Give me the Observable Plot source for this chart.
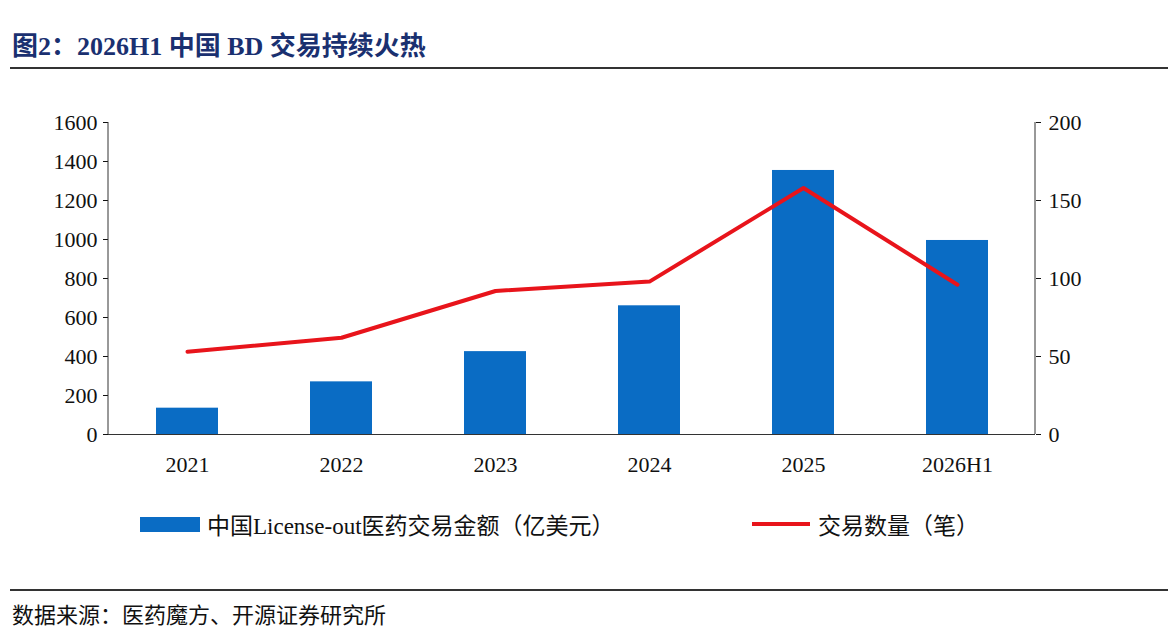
<!DOCTYPE html>
<html><head><meta charset="utf-8">
<script src="https://cdn.jsdelivr.net/npm/d3@7"></script>
<script src="https://cdn.jsdelivr.net/npm/@observablehq/plot@0.6"></script>
<style>
body{margin:0;background:#fff;width:1170px;height:643px;position:relative;overflow:hidden;font-family:"Liberation Serif","Noto Sans CJK SC",serif;}
#title{position:absolute;left:12px;top:25px;font-size:26px;font-weight:bold;color:#1a3070;}
.hr{position:absolute;left:10px;width:1158px;height:1.5px;background:#333;}
#chart{position:absolute;left:0;top:90px;}
#legend{position:absolute;top:507px;left:0;width:1170px;font-size:23px;color:#111;}
#src{position:absolute;left:12px;top:597px;font-size:22px;color:#111;}
</style></head><body>
<div id="title">图2：2026H1 中国 BD 交易持续火热</div>
<div class="hr" style="top:67px"></div>
<div id="chart"></div>
<div id="legend">
 <span style="position:absolute;left:140px;top:10px;width:60px;height:15px;background:#0a6cc4"></span>
 <span style="position:absolute;left:207px;top:0">中国License-out医药交易金额（亿美元）</span>
 <span style="position:absolute;left:752px;top:15px;width:58px;height:4px;background:#e8141b"></span>
 <span style="position:absolute;left:818px;top:0">交易数量（笔）</span>
</div>
<div class="hr" style="top:589px"></div>
<div id="src">数据来源：医药魔方、开源证券研究所</div>
<script>
const years = ["2021","2022","2023","2024","2025","2026H1"];
const amounts = [135, 270, 425, 660, 1354, 995];
const counts = [53, 62, 92, 98, 158, 96];
const leftTicks = [0,200,400,600,800,1000,1200,1400,1600];
const rightTicks = [0,50,100,150,200];
const ratio = 8;
const data = years.map((y,i)=>({year:y, amount:amounts[i], count:counts[i]}));
const chart = Plot.plot({
  width:1170, height:404,
  marginLeft:108, marginRight:135, marginTop:32, marginBottom:60,
  style:{fontFamily:"Liberation Serif, serif", fontSize:"22px", color:"#111"},
  x:{domain:years, paddingInner:0.6, paddingOuter:0.3, label:null},
  y:{domain:[0,1600], label:null},
  marks:[
    Plot.barY(data,{x:"year",y:"amount",fill:"#0a6cc4"}),
    Plot.line(data,{x:"year",y:d=>d.count*ratio,stroke:"#e8141b",strokeWidth:4}),
    Plot.axisY({ticks:leftTicks,tickFormat:d3.format("d"),tickSize:5,tickPadding:6,label:null}),
    Plot.axisY({anchor:"right",ticks:rightTicks.map(v=>v*ratio),tickFormat:d=>d/ratio,tickSize:5,tickPadding:8,label:null}),
    Plot.axisX({tickSize:0,tickPadding:22,label:null}),
    Plot.ruleY([0],{stroke:"#333"})
  ]
});
const svg = d3.select(chart);
svg.append("line").attr("x1",108).attr("x2",108).attr("y1",32).attr("y2",344).attr("stroke","#333");
svg.append("line").attr("x1",1035).attr("x2",1035).attr("y1",32).attr("y2",344).attr("stroke","#333");
document.getElementById("chart").appendChild(chart);
</script>
</body></html>
